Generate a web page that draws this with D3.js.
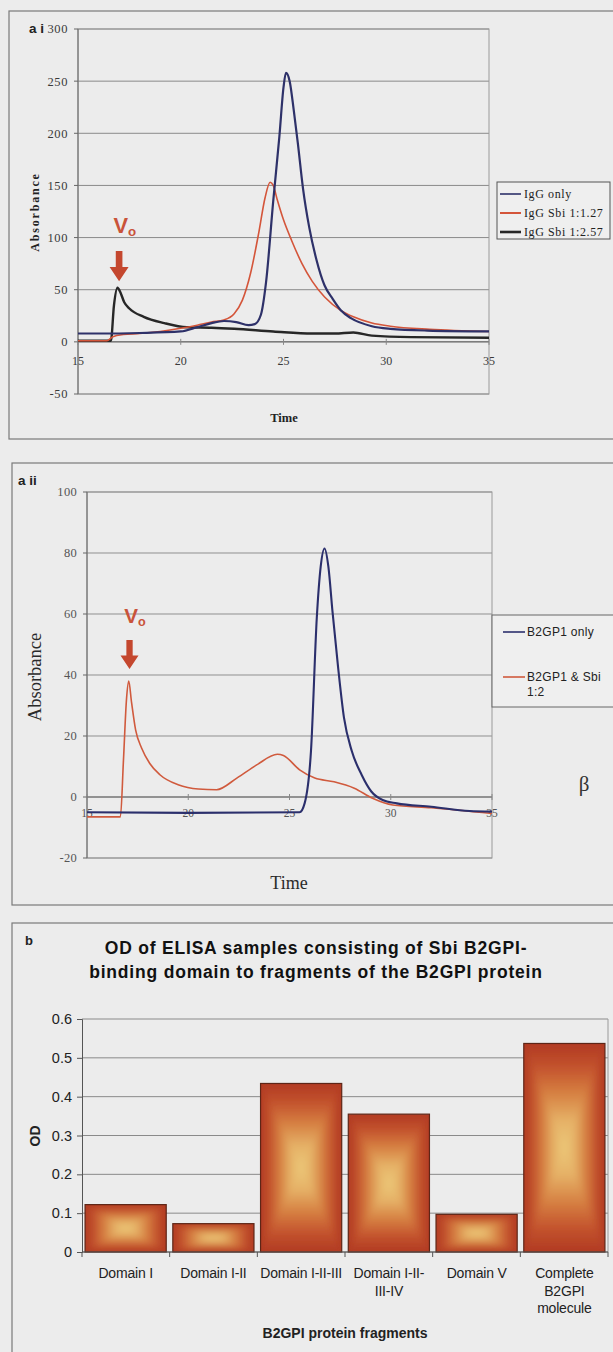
<!DOCTYPE html>
<html>
<head>
<meta charset="utf-8">
<script src="https://cdn.jsdelivr.net/npm/d3@7/dist/d3.min.js"></script>
<style>
  body { margin: 0; background: #ececec; }
  svg { display: block; }
</style>
</head>
<body>
<svg id="fig" width="613" height="1352"></svg>
<script>
// ---- panel a i : IgG gel filtration ----
const aiTicksX = [15, 20, 25, 30, 35]
const aiTicksY = [-50, 0, 50, 100, 150, 200, 250, 300]
const igGOnlyTime = [15, 16, 18, 20, 20.8, 21.5, 22.1, 22.7, 23.3, 23.6, 23.9, 24.15, 24.5, 24.8, 25.0, 25.12, 25.3, 25.5, 25.7, 25.95, 26.25, 26.6, 27.0, 27.4, 27.8, 28.3, 29.3, 30.2, 32, 35]
const igGOnlyAbs  = [8, 8, 8.5, 10, 14, 18, 20, 19, 16, 17, 26, 57, 135, 197, 244, 258, 250, 222, 190, 147, 110, 79, 54, 41, 30, 22.5, 15, 12.5, 10.8, 10]
const igGSbi127Time = [15, 16.4, 16.7, 17.2, 18, 19, 20, 20.8, 21.5, 22.1, 22.6, 23.0, 23.4, 23.8, 24.1, 24.35, 24.5, 24.7, 25.0, 25.4, 25.9, 26.4, 27.0, 27.8, 28.4, 29.3, 30.2, 32.1, 35]
const igGSbi127Abs  = [1, 1, 5, 7, 8, 10, 13, 16, 19, 21, 27, 40, 66, 105, 138, 153, 150, 136, 117, 97, 75, 58, 43, 30, 24, 18, 15, 12, 10]
const igGSbi257Time = [15, 16.6, 16.75, 16.92, 17.05, 17.25, 17.5, 18.2, 19.2, 20.3, 21.5, 22.6, 24.5, 26.4, 27.5, 28.4, 29.3, 31.2, 35]
const igGSbi257Abs  = [1, 1, 35, 52, 48, 38, 32, 24, 18, 14, 13.5, 12.5, 10, 8, 8, 9, 6, 4.5, 4]
const aiLegend = ["IgG only", "IgG Sbi 1:1.27", "IgG Sbi 1:2.57"]

// ---- panel a ii : B2GP1 gel filtration ----
const aiiTicksX = [15, 20, 25, 30, 35]
const aiiTicksY = [-20, 0, 20, 40, 60, 80, 100]
const b2OnlyTime = [15, 20, 25.5, 25.75, 26.06, 26.35, 26.54, 26.73, 26.92, 27.12, 27.4, 27.69, 28.08, 28.56, 29.04, 29.6, 30.3, 32, 33.9, 35]
const b2OnlyAbs  = [-5, -5.2, -5, -2, 15, 59, 75.5, 81.5, 75.5, 61, 42.5, 26, 15, 7.3, 1.8, -1, -2.1, -3.2, -4.6, -4.8]
const b2SbiTime = [15, 16.65, 16.8, 16.95, 17.06, 17.2, 17.4, 17.7, 18.1, 18.6, 19.5, 20.5, 21.4, 22.4, 23.4, 24.4, 24.7, 25.5, 26.25, 27.2, 28.2, 29.1, 30.1, 32, 35]
const b2SbiAbs  = [-6.5, -6.5, 12, 32, 38, 31, 22, 16, 11, 7.3, 4, 2.6, 2.4, 6.2, 10.6, 14, 13.6, 8.9, 6.2, 5, 2.9, -0.4, -2.6, -3.5, -5.4]
const aiiLegend = ["B2GP1 only", "B2GP1 & Sbi|1:2"]

// ---- panel b : ELISA ----
const fragments = ["Domain I", "Domain I-II", "Domain I-II-III", "Domain I-II-|III-IV", "Domain V", "Complete|B2GPI|molecule"]
const odValues  = [0.122, 0.073, 0.434, 0.355, 0.097, 0.537]
const odTicks   = [0, 0.1, 0.2, 0.3, 0.4, 0.5, 0.6]

const serif = "'Liberation Serif', 'DejaVu Serif', serif"
const sans = "'Liberation Sans', Arial, sans-serif"

const svg = d3.select("#fig")
svg.append("rect").attr("width", 613).attr("height", 1352).attr("fill", "#ececec")
const defs = svg.append("defs")
defs.append("filter").attr("id", "soft")
    .attr("x", "-20%").attr("y", "-20%").attr("width", "140%").attr("height", "140%")
    .append("feGaussianBlur").attr("stdDeviation", 3.5)

function panelFrame(x, y, h){
    svg.append("rect")
        .attr("x", x).attr("y", y)
        .attr("width", 640).attr("height", h)
        .attr("fill", "none")
        .attr("stroke", "#7a7a7a")
        .attr("stroke-width", 1.2)
}

function drawTrace(g, x, y, times, vals, colour, width){
    const pts = times.map((t, i) => [t, vals[i]])
    g.append("path")
        .datum(pts)
        .attr("fill", "none")
        .attr("stroke", colour)
        .attr("stroke-width", width)
        .attr("stroke-linejoin", "round")
        .attr("d", d3.line().x(d => x(d[0])).y(d => y(d[1])).curve(d3.curveMonotoneX))
}

// red Vo arrow + label, anchored at a data point
function voMarker(g, x, y, t, v, size){
    const cx = x(t), tip = y(v)
    const s = size
    const pts = [[cx - 3.5*s, tip - 32*s], [cx + 3.5*s, tip - 32*s], [cx + 3.5*s, tip - 15*s],
                 [cx + 10*s, tip - 15*s], [cx, tip], [cx - 10*s, tip - 15*s], [cx - 3.5*s, tip - 15*s]]
    g.append("path")
        .attr("d", "M" + pts.join("L") + "Z")
        .attr("fill", "#c4472e")
    const lab = g.append("text")
        .attr("x", cx - 6*s).attr("y", tip - 51*s)
        .attr("font-family", sans)
        .attr("font-weight", "bold")
        .attr("font-size", 23*s)
        .attr("fill", "#c9533a")
    lab.append("tspan").text("V")
    lab.append("tspan").attr("font-size", 14*s).attr("dy", 3*s).text("o")
}

function gridAndAxes(g, x, y, ticksX, ticksY, opts){
    const [x0, x1] = x.range()
    const [yb, yt] = y.range()
    g.selectAll("line.grid")
        .data(ticksY)
        .join("line")
        .attr("class", "grid")
        .attr("x1", x0).attr("x2", x1)
        .attr("y1", d => y(d)).attr("y2", d => y(d))
        .attr("stroke", opts.grid)
        .attr("stroke-width", 1)
    g.append("rect")
        .attr("x", x0).attr("y", yt)
        .attr("width", x1 - x0).attr("height", yb - yt)
        .attr("fill", "none")
        .attr("stroke", "#9a9a9a")
    // y axis
    g.append("line")
        .attr("x1", x0).attr("x2", x0).attr("y1", yt).attr("y2", yb)
        .attr("stroke", "#666")
    g.selectAll("line.yt")
        .data(ticksY)
        .join("line")
        .attr("class", "yt")
        .attr("x1", x0 - 4).attr("x2", x0)
        .attr("y1", d => y(d)).attr("y2", d => y(d))
        .attr("stroke", "#666")
    g.selectAll("text.yl")
        .data(ticksY)
        .join("text")
        .attr("class", "yl")
        .attr("x", x0 - opts.labelGap).attr("y", d => y(d))
        .attr("dy", "0.35em")
        .attr("text-anchor", "end")
        .attr("font-family", serif)
        .attr("font-size", opts.tickSize)
        .attr("letter-spacing", opts.spacing)
        .attr("fill", opts.tickFill)
        .text(d => d)
    // x axis at zero
    g.append("line")
        .attr("x1", x0).attr("x2", x1).attr("y1", y(0)).attr("y2", y(0))
        .attr("stroke", "#666")
    g.selectAll("line.xt")
        .data(ticksX)
        .join("line")
        .attr("class", "xt")
        .attr("x1", d => x(d)).attr("x2", d => x(d))
        .attr("y1", y(0) - 3).attr("y2", y(0) + 3)
        .attr("stroke", "#888")
    g.selectAll("text.xl")
        .data(ticksX)
        .join("text")
        .attr("class", "xl")
        .attr("x", d => x(d)).attr("y", y(0) + opts.xLabelDrop)
        .attr("text-anchor", "middle")
        .attr("font-family", serif)
        .attr("font-size", opts.xTickSize)
        .attr("fill", opts.tickFill)
        .text(d => d)
}

// ================= panel a i =================
panelFrame(9, 11, 428)
const gA = svg.append("g")
const xA = d3.scaleLinear().domain([15, 35]).range([78, 489])
const yA = d3.scaleLinear().domain([-50, 300]).range([394, 29])
gridAndAxes(gA, xA, yA, aiTicksX, aiTicksY, {grid: "#8a8a8a", labelGap: 10, tickSize: 12.5, xTickSize: 12, spacing: 0.6, tickFill: "#3a3a3a", xLabelDrop: 23})
drawTrace(gA, xA, yA, igGSbi257Time, igGSbi257Abs, "#272727", 2.4)
drawTrace(gA, xA, yA, igGSbi127Time, igGSbi127Abs, "#d4553a", 1.6)
drawTrace(gA, xA, yA, igGOnlyTime, igGOnlyAbs, "#2e3169", 2.2)
voMarker(gA, xA, yA, 17.0, 58, 0.95)

gA.append("text").attr("x", 29).attr("y", 33)
    .attr("font-family", sans).attr("font-weight", "bold").attr("font-size", 13.5)
    .attr("fill", "#222").text("a i")
gA.append("text").attr("transform", "translate(39,212) rotate(-90)")
    .attr("text-anchor", "middle")
    .attr("font-family", serif).attr("font-weight", "bold").attr("font-size", 12)
    .attr("letter-spacing", 1.8).attr("fill", "#222").text("Absorbance")
gA.append("text").attr("x", 284).attr("y", 422)
    .attr("text-anchor", "middle")
    .attr("font-family", serif).attr("font-weight", "bold").attr("font-size", 12.5)
    .attr("fill", "#222").text("Time")

// legend a i
const legA = gA.append("g")
legA.append("rect").attr("x", 497).attr("y", 182).attr("width", 113).attr("height", 57)
    .attr("fill", "#efefef").attr("stroke", "#555")
const legAColours = ["#2e3169", "#d4553a", "#272727"]
const legAWidths = [1.6, 2, 2.6]
aiLegend.forEach((name, i) => {
    const yy = 194 + i*19
    legA.append("line").attr("x1", 500).attr("x2", 521).attr("y1", yy).attr("y2", yy)
        .attr("stroke", legAColours[i]).attr("stroke-width", legAWidths[i])
    legA.append("text").attr("x", 524).attr("y", yy).attr("dy", "0.35em")
        .attr("font-family", serif).attr("font-size", 12).attr("letter-spacing", 0.6)
        .attr("fill", "#222").text(name)
})

// ================= panel a ii =================
panelFrame(12, 463, 442)
const gB = svg.append("g")
const xB = d3.scaleLinear().domain([15, 35]).range([87, 492])
const yB = d3.scaleLinear().domain([-20, 100]).range([858, 492])
gridAndAxes(gB, xB, yB, aiiTicksX, aiiTicksY, {grid: "#8f8f8f", labelGap: 10, tickSize: 12.5, xTickSize: 11.5, spacing: 0.3, tickFill: "#555", xLabelDrop: 20})
drawTrace(gB, xB, yB, b2SbiTime, b2SbiAbs, "#d05a3d", 1.6)
drawTrace(gB, xB, yB, b2OnlyTime, b2OnlyAbs, "#2b2f6c", 2.1)
voMarker(gB, xB, yB, 17.1, 42, 0.9)

gB.append("text").attr("x", 18).attr("y", 485)
    .attr("font-family", sans).attr("font-weight", "bold").attr("font-size", 13.5)
    .attr("fill", "#222").text("a ii")
gB.append("text").attr("transform", "translate(41,677) rotate(-90)")
    .attr("text-anchor", "middle")
    .attr("font-family", serif).attr("font-size", 18.5)
    .attr("fill", "#2a2a2a").text("Absorbance")
gB.append("text").attr("x", 289).attr("y", 889)
    .attr("text-anchor", "middle")
    .attr("font-family", serif).attr("font-size", 18)
    .attr("fill", "#2a2a2a").text("Time")
gB.append("text").attr("x", 584).attr("y", 791)
    .attr("text-anchor", "middle")
    .attr("font-family", serif).attr("font-size", 21)
    .attr("fill", "#333").text("β")

// legend a ii
const legB = gB.append("g")
legB.append("rect").attr("x", 492).attr("y", 615).attr("width", 125).attr("height", 92)
    .attr("fill", "#efefef").attr("stroke", "#666")
const legBColours = ["#2b2f6c", "#d05a3d"]
aiiLegend.forEach((name, i) => {
    const yy = 632 + i*45
    legB.append("line").attr("x1", 503).attr("x2", 525).attr("y1", yy).attr("y2", yy)
        .attr("stroke", legBColours[i]).attr("stroke-width", 1.6)
    const t = legB.append("text").attr("x", 527).attr("y", yy).attr("dy", "0.35em")
        .attr("font-family", sans).attr("font-size", 12).attr("letter-spacing", 0.3)
        .attr("fill", "#222")
    name.split("|").forEach((line, j) => {
        t.append("tspan").attr("x", 527).attr("dy", j == 0 ? "0.35em" : 15).text(line)
    })
})

// ================= panel b =================
panelFrame(12, 923, 460)
const gC = svg.append("g")
const xC = d3.scaleBand().domain(fragments).range([82, 608]).paddingInner(0.075).paddingOuter(0.035)
const yC = d3.scaleLinear().domain([0, 0.6]).range([1252, 1019])

gC.selectAll("line.grid")
    .data(odTicks)
    .join("line")
    .attr("class", "grid")
    .attr("x1", 82).attr("x2", 608)
    .attr("y1", d => yC(d)).attr("y2", d => yC(d))
    .attr("stroke", "#8a8a8a")
gC.append("line").attr("x1", 608).attr("x2", 608).attr("y1", yC(0.6)).attr("y2", yC(0))
    .attr("stroke", "#9a9a9a")

const yAxisC = d3.axisLeft(yC).tickValues(odTicks).tickSize(5).tickFormat(d => d)
gC.append("g").attr("transform", "translate(82,0)").call(yAxisC)
    .call(a => a.select(".domain").attr("stroke", "#555"))
    .call(a => a.selectAll(".tick line").attr("stroke", "#555"))
    .call(a => a.selectAll("text").attr("font-family", sans).attr("font-size", 14.5).attr("fill", "#222").attr("x", -10))

// rectangular "from centre" fill for each bar, softened with a blur and clipped to the bar
const barColour = d3.scaleLinear()
    .domain([0, 0.28, 0.54, 0.78, 1])
    .range(["#ecca7a", "#e5b066", "#d68042", "#c4542e", "#b23b23"])
const steps = 32
fragments.forEach((f, i) => {
    const bx = xC(f), bw = xC.bandwidth()
    const by = yC(odValues[i]), bh = yC(0) - yC(odValues[i])
    const cx = bx + bw/2, cy = by + bh/2
    defs.append("clipPath").attr("id", "clip" + i)
        .append("rect").attr("x", bx).attr("y", by).attr("width", bw).attr("height", bh)
    const bar = gC.append("g").attr("clip-path", "url(#clip" + i + ")")
    bar.append("rect").attr("x", bx).attr("y", by).attr("width", bw).attr("height", bh)
        .attr("fill", barColour(1))
    const inner = bar.append("g").attr("filter", "url(#soft)")
    for (let k = 0; k < steps; k++){
        const d = 1 - k/steps
        inner.append("rect")
            .attr("x", cx - bw/2*d).attr("y", cy - bh/2*d)
            .attr("width", bw*d).attr("height", bh*d)
            .attr("fill", barColour(d))
    }
    gC.append("rect")
        .attr("x", bx).attr("y", by).attr("width", bw).attr("height", bh)
        .attr("fill", "none").attr("stroke", "#5e2516").attr("stroke-width", 1.2)
})

// x axis baseline + category ticks
gC.append("line").attr("x1", 82).attr("x2", 608).attr("y1", yC(0)).attr("y2", yC(0)).attr("stroke", "#555")
const catEdges = fragments.map((f, i) => 82 + i*(526/fragments.length)).concat([608])
gC.selectAll("line.ct")
    .data(catEdges)
    .join("line")
    .attr("class", "ct")
    .attr("x1", d => d).attr("x2", d => d)
    .attr("y1", yC(0)).attr("y2", yC(0) + 5)
    .attr("stroke", "#555")

fragments.forEach(f => {
    const t = gC.append("text")
        .attr("x", xC(f) + xC.bandwidth()/2).attr("y", 1278)
        .attr("text-anchor", "middle")
        .attr("font-family", sans).attr("font-size", 14)
        .attr("letter-spacing", -0.2)
        .attr("fill", "#222")
    f.split("|").forEach((line, j) => {
        t.append("tspan").attr("x", xC(f) + xC.bandwidth()/2).attr("dy", j == 0 ? 0 : 17.5).text(line)
    })
})

gC.append("text").attr("x", 25).attr("y", 945)
    .attr("font-family", sans).attr("font-weight", "bold").attr("font-size", 13)
    .attr("fill", "#222").text("b")
const title = gC.append("text").attr("text-anchor", "middle")
    .attr("font-family", sans).attr("font-weight", "bold").attr("font-size", 17.5)
    .attr("letter-spacing", 0.8)
    .attr("fill", "#111")
title.append("tspan").attr("x", 316).attr("y", 954).text("OD of ELISA samples consisting of Sbi B2GPI-")
title.append("tspan").attr("x", 316).attr("y", 978).text("binding domain to fragments of the B2GPI protein")
gC.append("text").attr("transform", "translate(40,1136) rotate(-90)")
    .attr("text-anchor", "middle")
    .attr("font-family", sans).attr("font-weight", "bold").attr("font-size", 14)
    .attr("fill", "#222").text("OD")
gC.append("text").attr("x", 345).attr("y", 1338)
    .attr("text-anchor", "middle")
    .attr("font-family", sans).attr("font-weight", "bold").attr("font-size", 14)
    .attr("fill", "#222").text("B2GPI protein fragments")
</script>
</body>
</html>
